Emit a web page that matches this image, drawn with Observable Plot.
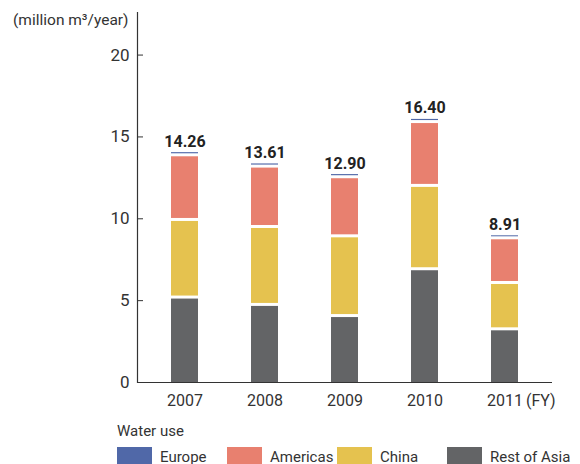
<!DOCTYPE html>
<html><head><meta charset="utf-8">
<script src="https://cdn.jsdelivr.net/npm/d3@7"></script>
<script src="https://cdn.jsdelivr.net/npm/@observablehq/plot@0.6"></script>
<style>
body{margin:0;background:#fff;}
#wrap{position:relative;width:580px;height:464px;overflow:hidden;font-family:Roboto,sans-serif;color:#333;}
#chart{position:absolute;left:0;top:0;}
#legend{position:absolute;left:117px;top:421px;font-size:15px;line-height:20px;}
#legend .row{margin-top:6px;white-space:nowrap;}
#legend .item{display:inline-block;width:110px;vertical-align:top;}
#legend .sw{display:inline-block;width:35px;height:18px;vertical-align:top;margin-right:8px;}
</style></head><body><div id="wrap"><div id="chart"></div><div id="legend"></div></div>
<script>
const years = ["2007","2008","2009","2010","2011"];
const totalLabels = ["14.26","13.61","12.90","16.40","8.91"];
const restOfAsia = [5.28,4.83,4.15,7.01,3.34];
const china = [4.74,4.76,4.87,5.09,2.83];
const americas = [3.95,3.69,3.61,3.90,2.73];
const europe = [0.07,0.07,0.07,0.07,0.06];
const legendRegions = ["Europe","Americas","China","Rest of Asia"];
const legendColors = ["#5068a8","#e8806f","#e5c24f","#636466"];
const stackOrder = ["Rest of Asia","China","Americas","Europe"];
const yTicks = [0,5,10,15,20];

const series = {"Rest of Asia": restOfAsia, "China": china, "Americas": americas, "Europe": europe};
const rows = [];
years.forEach((y, i) => stackOrder.forEach(r => rows.push({year: y, region: r, value: series[r][i]})));
const tops = years.map((y, i) => restOfAsia[i] + china[i] + americas[i] + europe[i]);

const chart = Plot.plot({
  width: 580, height: 418,
  marginLeft: 137, marginRight: 28, marginTop: 12, marginBottom: 36,
  style: {fontFamily: "Roboto, sans-serif", fontSize: "16px", color: "#333", background: "#fff"},
  x: {domain: years, paddingInner: 0.664, paddingOuter: 0.416, label: null},
  y: {domain: [0, 22.6], label: null},
  color: {domain: legendRegions, range: legendColors},
  marks: [
    Plot.barY(rows, Plot.stackY({x: "year", y: "value", z: "region", order: stackOrder, fill: "region",
      fillOpacity: d => d.region === "Europe" ? 0 : 1, insetTop: 3})),
    Plot.barY(rows, Plot.stackY({x: "year", y: "value", z: "region", order: stackOrder, fill: "region",
      fillOpacity: d => d.region === "Europe" ? 1 : 0})),
    Plot.ruleY([0], {stroke: "#333", strokeWidth: 1.2}),
    Plot.frame({anchor: "left", stroke: "#333", strokeWidth: 1.2}),
    Plot.axisY({ticks: yTicks, tickSize: -6, tickPadding: 14, label: null, stroke: "#333", fontSize: 17}),
    Plot.axisX({tickSize: 0, tickPadding: 12, label: null}),
    Plot.text(years, {x: d => d, y: (d, i) => tops[i], text: (d, i) => totalLabels[i], dy: -6, lineAnchor: "bottom",
      fontWeight: "bold", fontSize: 16, fill: "#222"}),
    Plot.text(["(FY)"], {x: [years[4]], frameAnchor: "bottom", text: d => d, textAnchor: "start", lineAnchor: "top", dx: 21, dy: 12}),
    Plot.text(["(million m³/year)"], {frameAnchor: "top-left", text: d => d, textAnchor: "end", lineAnchor: "top", dx: -9, dy: 1, fontSize: 15.5})
  ]
});
document.getElementById("chart").appendChild(chart);

const lg = document.getElementById("legend");
const title = document.createElement("div");
title.textContent = "Water use";
lg.appendChild(title);
const row = document.createElement("div");
row.className = "row";
legendRegions.forEach((r, i) => {
  const it = document.createElement("span");
  it.className = "item";
  const sw = document.createElement("span");
  sw.className = "sw";
  sw.style.background = legendColors[i];
  it.appendChild(sw);
  it.appendChild(document.createTextNode(r));
  row.appendChild(it);
});
lg.appendChild(row);
</script></body></html>
